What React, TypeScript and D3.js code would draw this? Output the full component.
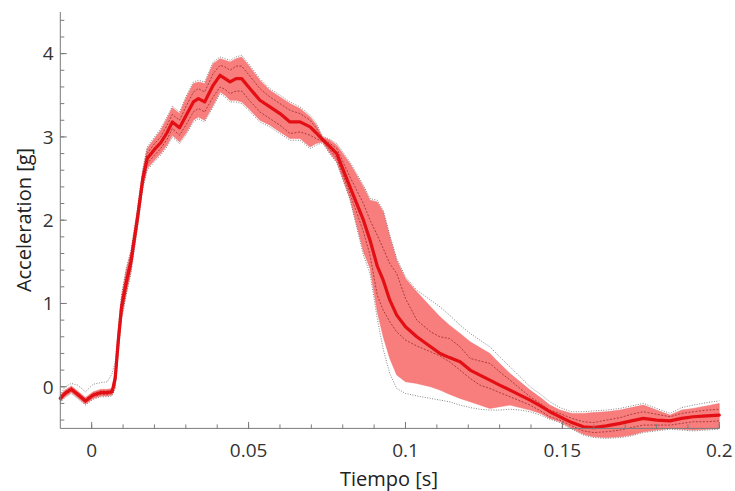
import React from "react";
import * as d3 from "d3";

const TIME = [
  -0.0100, -0.0085, -0.0065, -0.0045, -0.0020, 0.0005, 0.0030, 0.0050, 0.0065, 0.0075,
  0.0085, 0.0095, 0.0110, 0.0125, 0.0145, 0.0163, 0.0177, 0.0200, 0.0220, 0.0240,
  0.0257, 0.0280, 0.0300, 0.0324, 0.0340, 0.0360, 0.0387, 0.0409, 0.0425, 0.0441,
  0.0460, 0.0478, 0.0500, 0.0536, 0.0568, 0.0600, 0.0632, 0.0664, 0.0696, 0.0715,
  0.0735, 0.0760, 0.0781, 0.0823, 0.0866, 0.0887, 0.0910, 0.0929, 0.0950, 0.0972,
  0.1000, 0.1036, 0.1080, 0.1110, 0.1140, 0.1174, 0.1206, 0.1237, 0.1269, 0.1300,
  0.1333, 0.1365, 0.1397, 0.1430, 0.1460, 0.1492, 0.1530, 0.1567, 0.1600, 0.1640,
  0.1684, 0.1720, 0.1758, 0.1800, 0.1843, 0.1880, 0.1917, 0.1960, 0.2000,
];

const MEAN = [
  -0.14, -0.08, -0.03, -0.09, -0.17, -0.10, -0.07, -0.07, -0.06, 0.10,
  0.56, 0.95, 1.25, 1.50, 2.00, 2.50, 2.74, 2.85, 2.93, 3.05,
  3.18, 3.11, 3.25, 3.42, 3.46, 3.42, 3.62, 3.74, 3.70, 3.66,
  3.70, 3.70, 3.60, 3.44, 3.36, 3.28, 3.18, 3.18, 3.12, 3.05,
  2.97, 2.88, 2.80, 2.40, 2.00, 1.76, 1.45, 1.28, 1.04, 0.86,
  0.72, 0.60, 0.48, 0.40, 0.35, 0.30, 0.20, 0.14, 0.08, 0.02,
  -0.04, -0.10, -0.16, -0.23, -0.30, -0.36, -0.43, -0.48, -0.49, -0.47,
  -0.44, -0.41, -0.38, -0.40, -0.41, -0.38, -0.36, -0.35, -0.34,
];

const SD_LOW = [
  -0.16, -0.10, -0.05, -0.11, -0.19, -0.12, -0.09, -0.09, -0.08, 0.05,
  0.50, 0.88, 1.18, 1.44, 1.95, 2.45, 2.68, 2.78, 2.86, 2.97,
  3.10, 3.02, 3.14, 3.30, 3.34, 3.30, 3.48, 3.60, 3.57, 3.52,
  3.55, 3.55, 3.45, 3.30, 3.22, 3.14, 3.04, 3.06, 3.02, 2.98,
  2.95, 2.84, 2.74, 2.32, 1.86, 1.58, 1.10, 0.92, 0.78, 0.66,
  0.56, 0.49, 0.42, 0.37, 0.30, 0.20, 0.10, 0.02, -0.02, -0.07,
  -0.12, -0.17, -0.22, -0.29, -0.36, -0.40, -0.47, -0.53, -0.55, -0.54,
  -0.52, -0.49, -0.46, -0.46, -0.46, -0.44, -0.42, -0.42, -0.41,
];

const SD_HIGH = [
  -0.12, -0.06, -0.01, -0.07, -0.15, -0.08, -0.05, -0.05, -0.04, 0.15,
  0.62, 1.02, 1.32, 1.57, 2.05, 2.55, 2.80, 2.92, 3.00, 3.14,
  3.27, 3.20, 3.36, 3.54, 3.58, 3.54, 3.76, 3.86, 3.84, 3.80,
  3.85, 3.85, 3.75, 3.58, 3.48, 3.40, 3.32, 3.28, 3.20, 3.11,
  2.99, 2.92, 2.86, 2.52, 2.20, 2.00, 1.82, 1.66, 1.48, 1.36,
  1.06, 0.80, 0.66, 0.60, 0.58, 0.48, 0.34, 0.31, 0.28, 0.18,
  0.08, -0.02, -0.12, -0.20, -0.28, -0.32, -0.38, -0.42, -0.43, -0.40,
  -0.37, -0.33, -0.30, -0.33, -0.36, -0.32, -0.30, -0.28, -0.27,
];

const BAND_LOW = [
  -0.18, -0.12, -0.07, -0.13, -0.21, -0.14, -0.11, -0.11, -0.10, 0.00,
  0.45, 0.82, 1.12, 1.38, 1.90, 2.40, 2.62, 2.72, 2.80, 2.90,
  3.02, 2.94, 3.04, 3.20, 3.24, 3.20, 3.38, 3.54, 3.50, 3.44,
  3.44, 3.42, 3.34, 3.20, 3.14, 3.06, 2.98, 2.98, 2.88, 2.92,
  2.94, 2.80, 2.70, 2.26, 1.62, 1.42, 0.90, 0.60, 0.34, 0.14,
  0.06, 0.04, 0.00, -0.04, -0.09, -0.14, -0.18, -0.22, -0.26, -0.24,
  -0.22, -0.25, -0.28, -0.32, -0.38, -0.42, -0.50, -0.57, -0.60, -0.61,
  -0.60, -0.58, -0.54, -0.52, -0.50, -0.51, -0.52, -0.51, -0.50,
];

const BAND_HIGH = [
  -0.10, -0.04, 0.01, -0.05, -0.13, -0.06, -0.03, -0.03, -0.02, 0.22,
  0.68, 1.08, 1.40, 1.62, 2.10, 2.60, 2.86, 2.98, 3.08, 3.22,
  3.35, 3.28, 3.46, 3.64, 3.66, 3.64, 3.88, 3.94, 3.92, 3.90,
  3.94, 3.96, 3.86, 3.68, 3.56, 3.48, 3.40, 3.34, 3.24, 3.15,
  3.00, 2.96, 2.90, 2.68, 2.40, 2.24, 2.22, 2.10, 1.80, 1.52,
  1.30, 1.14, 0.96, 0.84, 0.74, 0.64, 0.54, 0.47, 0.40, 0.28,
  0.16, 0.06, -0.04, -0.13, -0.22, -0.28, -0.32, -0.32, -0.31, -0.30,
  -0.28, -0.25, -0.22, -0.28, -0.34, -0.28, -0.26, -0.23, -0.20,
];

const MIN_V = [
  -0.19, -0.13, -0.08, -0.14, -0.22, -0.15, -0.12, -0.12, -0.11, -0.02,
  0.42, 0.80, 1.10, 1.36, 1.88, 2.38, 2.60, 2.70, 2.78, 2.88,
  3.00, 2.92, 3.02, 3.18, 3.22, 3.18, 3.36, 3.52, 3.48, 3.42,
  3.42, 3.40, 3.32, 3.18, 3.12, 3.04, 2.96, 2.96, 2.86, 2.90,
  2.93, 2.79, 2.69, 2.25, 1.58, 1.36, 0.82, 0.45, 0.16, -0.02,
  -0.08, -0.11, -0.14, -0.16, -0.18, -0.22, -0.25, -0.27, -0.28, -0.28,
  -0.27, -0.28, -0.30, -0.34, -0.39, -0.43, -0.51, -0.58, -0.61, -0.62,
  -0.61, -0.59, -0.55, -0.53, -0.51, -0.52, -0.53, -0.52, -0.51,
];

const MAX_V = [
  -0.10, 0.00, 0.04, 0.02, -0.06, 0.03, 0.05, 0.06, 0.16, 0.30,
  0.72, 1.10, 1.42, 1.64, 2.12, 2.62, 2.88, 3.00, 3.10, 3.24,
  3.37, 3.30, 3.48, 3.66, 3.68, 3.66, 3.90, 3.96, 3.94, 3.92,
  3.96, 3.98, 3.88, 3.70, 3.58, 3.50, 3.42, 3.36, 3.26, 3.17,
  3.01, 2.97, 2.92, 2.70, 2.42, 2.26, 2.24, 2.12, 1.82, 1.54,
  1.32, 1.16, 1.04, 0.96, 0.86, 0.74, 0.64, 0.56, 0.48, 0.36,
  0.24, 0.12, 0.00, -0.09, -0.18, -0.25, -0.30, -0.30, -0.29, -0.28,
  -0.26, -0.23, -0.20, -0.26, -0.32, -0.25, -0.22, -0.19, -0.17,
];

const X_TICKS = [0, 0.05, 0.1, 0.15, 0.2];
const X_TICK_LABELS = ["0", "0.05", "0.1", "0.15", "0.2"];
const Y_TICKS = [0, 1, 2, 3, 4];
const Y_TICK_LABELS = ["0", "1", "2", "3", "4"];
const X_LABEL = "Tiempo [s]";
const Y_LABEL = "Acceleration [g]";

const W = 735;
const H = 491;
const FONT = "'Open Sans', sans-serif";

export default function App() {
  const x = d3.scaleLinear().domain([-0.01, 0.2]).range([60.3, 719.3]);
  const y = d3.scaleLinear().domain([-0.5, 4.5]).range([428.4, 12]);

  const idx = d3.range(Math.min(TIME.length, MEAN.length, SD_LOW.length, SD_HIGH.length, BAND_LOW.length, BAND_HIGH.length, MIN_V.length, MAX_V.length));

  const area = d3
    .area<number>()
    .x((i) => x(TIME[i]))
    .y0((i) => y(BAND_LOW[i]))
    .y1((i) => y(BAND_HIGH[i]))
    .curve(d3.curveLinear);

  const lineOf = (arr: number[]) =>
    d3
      .line<number>()
      .x((i) => x(TIME[i]))
      .y((i) => y(arr[i]))
      .curve(d3.curveLinear)(idx) || "";

  const xMinor = d3.range(0, 21).map((k) => k * 0.01);
  const yMinor = d3.range(-2, 23).map((k) => k * 0.2);

  const axisColor = "#7a7a7a";
  const [x0, x1] = x.range();
  const [yb, yt] = y.range();

  return (
    <svg
      width={W}
      height={H}
      style={{ position: "absolute", left: 0, top: 0, background: "#fff" }}
      fontFamily={FONT}
    >
      <rect x={0} y={0} width={W} height={H} fill="#fff" />
      <path d={area(idx) || ""} fill="#f87d7d" stroke="#f57070" strokeWidth={0.5} />
      <path d={lineOf(MAX_V)} fill="none" stroke="#222" strokeWidth={0.7} strokeDasharray="1 1.5" opacity={0.8} />
      <path d={lineOf(MIN_V)} fill="none" stroke="#222" strokeWidth={0.7} strokeDasharray="1 1.5" opacity={0.8} />
      <path d={lineOf(SD_HIGH)} fill="none" stroke="#7a1010" strokeWidth={0.7} strokeDasharray="2 1.5" opacity={0.85} />
      <path d={lineOf(SD_LOW)} fill="none" stroke="#7a1010" strokeWidth={0.7} strokeDasharray="2 1.5" opacity={0.85} />
      <path d={lineOf(MEAN)} fill="none" stroke="#e30f14" strokeWidth={3.2} strokeLinejoin="round" strokeLinecap="round" />

      {/* axes */}
      <line x1={x0} x2={x0} y1={yt} y2={yb} stroke={axisColor} strokeWidth={1} />
      <line x1={x0} x2={x1} y1={yb} y2={yb} stroke={axisColor} strokeWidth={1} />

      {xMinor.map((v, i) => (
        <line key={"xm" + i} x1={x(v)} x2={x(v)} y1={yb} y2={yb - 4} stroke={axisColor} strokeWidth={1} />
      ))}
      {X_TICKS.map((v, i) => (
        <line key={"xM" + i} x1={x(v)} x2={x(v)} y1={yb} y2={yb - 6.5} stroke={axisColor} strokeWidth={1} />
      ))}
      {yMinor.map((v, i) => (
        <line key={"ym" + i} x1={x0} x2={x0 + 4} y1={y(v)} y2={y(v)} stroke={axisColor} strokeWidth={1} />
      ))}
      {Y_TICKS.map((v, i) => (
        <line key={"yM" + i} x1={x0} x2={x0 + 6.5} y1={y(v)} y2={y(v)} stroke={axisColor} strokeWidth={1} />
      ))}

      {X_TICKS.map((v, i) => (
        <text key={"xl" + i} x={x(v)} y={457} textAnchor="middle" fontSize={19} fill="#333">
          {X_TICK_LABELS[i]}
        </text>
      ))}
      {Y_TICKS.map((v, i) => (
        <text key={"yl" + i} x={53.5} y={y(v) + 6.8} textAnchor="end" fontSize={19} fill="#333">
          {Y_TICK_LABELS[i]}
        </text>
      ))}

      <text x={389} y={486} textAnchor="middle" fontSize={20} fill="#222">
        {X_LABEL}
      </text>
      <text transform="translate(31,220) rotate(-90)" textAnchor="middle" fontSize={20} fill="#222">
        {Y_LABEL}
      </text>
    </svg>
  );
}
